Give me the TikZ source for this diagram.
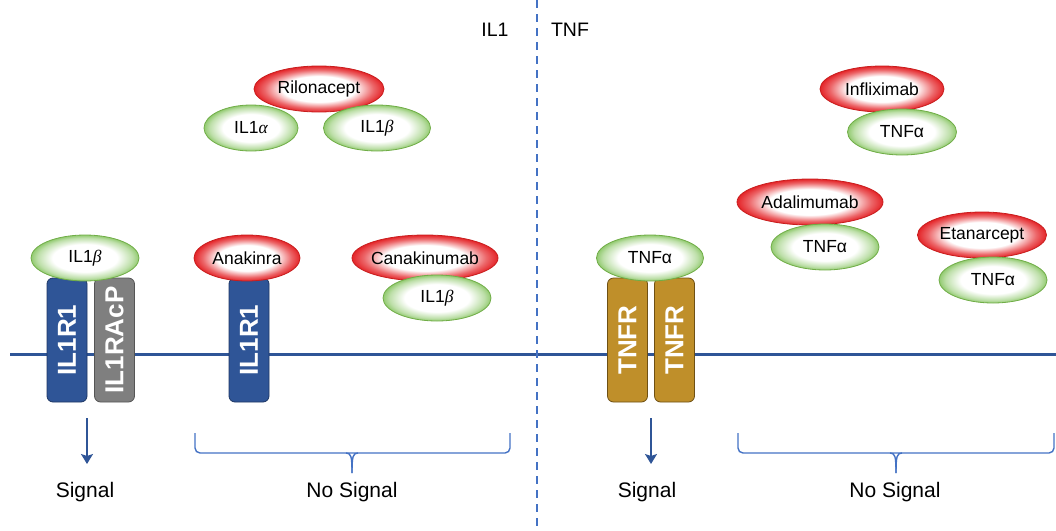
\documentclass[tikz,border=0pt]{standalone}
\usepackage{fontspec}
\setmainfont{Liberation Sans}
\newfontfamily\grkfont{Liberation Serif}
\usetikzlibrary{shapes.geometric,arrows.meta}
\definecolor{memblue}{RGB}{47,85,151}
\definecolor{memdark}{RGB}{30,55,100}
\definecolor{greyfill}{RGB}{127,127,127}
\definecolor{greydark}{RGB}{85,85,85}
\definecolor{goldfill}{RGB}{191,143,42}
\definecolor{golddark}{RGB}{110,80,20}
\definecolor{lineblue}{RGB}{68,114,196}
\definecolor{redE}{RGB}{228,36,40}
\definecolor{redB}{RGB}{200,30,30}
\definecolor{greenE}{RGB}{146,202,112}
\definecolor{greenB}{RGB}{112,173,71}
\pgfdeclareradialshading{redglow}{\pgfpoint{0bp}{0bp}}{color(0bp)=(white); color(14bp)=(white); color(21bp)=(redE!70!white); color(25bp)=(redE); color(50bp)=(redE)}
\pgfdeclareradialshading{greenglow}{\pgfpoint{0bp}{0bp}}{color(0bp)=(white); color(15bp)=(white); color(22bp)=(greenE!60!white); color(25bp)=(greenE); color(50bp)=(greenE)}
\newcommand\zw[1]{\makebox[0pt]{#1}}
\newcommand\gk[1]{{\grkfont\itshape #1}}
\tikzset{
  x=1pt, y=-1pt,
  membrane/.style={draw=memblue, line width=3pt},
  divider/.style={draw=lineblue, line width=1.6pt, dash pattern=on 8pt off 6pt},
  bracket/.style={draw=lineblue, line width=1.4pt, rounded corners=5pt},
  sigarrow/.style={draw=memblue, line width=1.6pt, -{Stealth[length=10pt,width=12pt,inset=2pt]}},
  rbox/.style={rounded corners=6pt, line width=0.8pt, rotate=90, minimum width=124pt, minimum height=40pt, inner sep=0pt, text=white, font=\fontsize{26}{28}\selectfont\bfseries},
  drug/.style={ellipse, shading=redglow, draw=redB, line width=0.8pt, inner sep=0pt, minimum height=46pt, font=\fontsize{17.5}{20}\selectfont},
  cyto/.style={ellipse, shading=greenglow, draw=greenB, line width=0.8pt, inner sep=0pt, minimum height=46pt, font=\fontsize{17.5}{20}\selectfont},
  label/.style={inner sep=0pt, font=\fontsize{21}{24}\selectfont},
  head/.style={inner sep=0pt, font=\fontsize{19.5}{22}\selectfont}
}
\begin{document}
\begin{tikzpicture}
\useasboundingbox (0,0) rectangle (1056,530);
% membrane and divider
\coordinate (mL) at (10,354);
\coordinate (mR) at (1056,354);
\draw[membrane] (mL) -- (mR);
\coordinate (dT) at (537,0);
\coordinate (dB) at (537,530);
\draw[divider] (dT) -- (dB);
\node[head] (il1) at (495,30) {IL1};
\node[head] (tnf) at (570,30) {TNF};

% receptors
\node[rbox, fill=memblue, draw=memdark] (r1) at (67,340) {IL1R1};
\node[rbox, fill=greyfill, draw=greydark] (racp) at (114.5,340) {IL1RAcP};
\node[rbox, fill=memblue, draw=memdark] (r2) at (249,340) {IL1R1};
\node[rbox, fill=goldfill, draw=golddark] (t1) at (627.5,340) {TNFR};
\node[rbox, fill=goldfill, draw=golddark] (t2) at (674.5,340) {TNFR};

% red drugs
\node[drug, minimum width=130pt] (ril) at (319,89) {\zw{Rilonacept}};
\node[drug, minimum width=106pt] (ana) at (247,258) {\zw{Anakinra}};
\node[drug, minimum width=146pt] (cana) at (425,258) {\zw{Canakinumab}};
\node[drug, minimum width=124pt] (inf) at (882,89) {\zw{Infliximab}};
\node[drug, minimum width=146pt] (ada) at (810,202) {\zw{Adalimumab}};
\node[drug, minimum width=129pt] (eta) at (982,235) {\zw{Etanarcept}};

% green cytokines
\node[cyto, minimum width=108pt] (b1) at (85,258) {\zw{IL1\gk{β}}};
\node[cyto, minimum width=94pt] (a1) at (251,128) {\zw{IL1\gk{α}}};
\node[cyto, minimum width=107pt] (b2) at (377,128) {\zw{IL1\gk{β}}};
\node[cyto, minimum width=108pt] (b3) at (437,298) {\zw{IL1\gk{β}}};
\node[cyto, minimum width=107pt] (tn0) at (650,258) {\zw{TNFα}};
\node[cyto, minimum width=109pt] (tn1) at (902,132) {\zw{TNFα}};
\node[cyto, minimum width=108pt] (tn2) at (825,247) {\zw{TNFα}};
\node[cyto, minimum width=108pt] (tn3) at (993,280) {\zw{TNFα}};

% signal arrows
\coordinate (sa1) at (87,418);
\coordinate (sb1) at (87,464);
\draw[sigarrow] (sa1) -- (sb1);
\coordinate (sa2) at (651,418);
\coordinate (sb2) at (651,464);
\draw[sigarrow] (sa2) -- (sb2);
\node[label] (sig1) at (85,492) {Signal};
\node[label] (sig2) at (647,492) {Signal};

% braces
\coordinate (bl1) at (195,433);
\coordinate (br1) at (510,433);
\coordinate (bm1) at (352,453);
\coordinate (bt1) at (352,473);
\draw[bracket] (bl1) |- (bm1) -| (br1);
\draw[draw=lineblue, line width=1.4pt] (346,453) .. controls (351,453) and (352,456) .. (bt1);
\draw[draw=lineblue, line width=1.4pt] (358,453) .. controls (353,453) and (352,456) .. (bt1);
\coordinate (bl2) at (738,433);
\coordinate (br2) at (1054,433);
\coordinate (bm2) at (896,453);
\coordinate (bt2) at (896,473);
\draw[bracket] (bl2) |- (bm2) -| (br2);
\draw[draw=lineblue, line width=1.4pt] (890,453) .. controls (895,453) and (896,456) .. (bt2);
\draw[draw=lineblue, line width=1.4pt] (902,453) .. controls (897,453) and (896,456) .. (bt2);
\node[label] (ns1) at (352,492) {No Signal};
\node[label] (ns2) at (895,492) {No Signal};
\end{tikzpicture}
\end{document}
